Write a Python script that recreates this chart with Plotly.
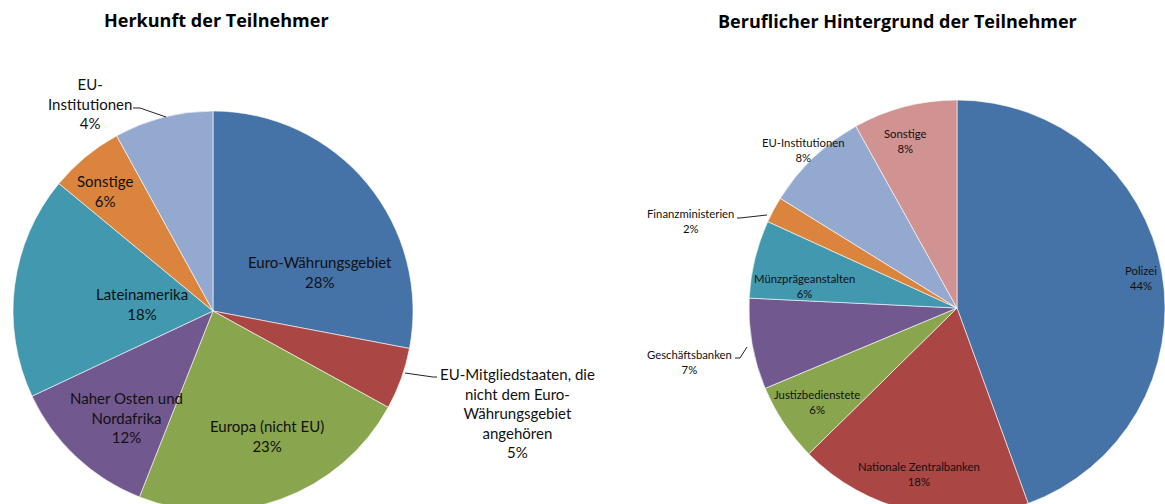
import plotly.graph_objects as go

# ---------------- data ----------------
left_title = "Herkunft der Teilnehmer"
left_labels = [
    "Euro-Währungsgebiet",
    "EU-Mitgliedstaaten, die<br>nicht dem Euro-<br>Währungsgebiet<br>angehören",
    "Europa (nicht EU)",
    "Naher Osten und<br>Nordafrika",
    "Lateinamerika",
    "Sonstige",
    "EU-<br>Institutionen",
]
left_values = [28, 5, 23, 12, 18, 6, 8]
left_pct_text = ["28%", "5%", "23%", "12%", "18%", "6%", "4%"]

right_title = "Beruflicher Hintergrund der Teilnehmer"
right_labels = [
    "Polizei",
    "Nationale Zentralbanken",
    "Justizbedienstete",
    "Geschäftsbanken",
    "Münzprägeanstalten",
    "Finanzministerien",
    "EU-Institutionen",
    "Sonstige",
]
right_values = [44, 18, 6, 7, 6, 2, 8, 8]
right_pct_text = ["44%", "18%", "6%", "7%", "6%", "2%", "8%", "8%"]

# ---------------- styling / layout constants ----------------
W, H = 1165, 520
left_colors = ["#4572A7", "#AA4643", "#89A54E", "#71588F", "#4198AF", "#DB843D", "#93A9CF"]
right_colors = ["#4572A7", "#AA4643", "#89A54E", "#71588F", "#4198AF", "#DB843D", "#93A9CF", "#D19392"]
FONT = "Lato"
TITLE_FONT = "Open Sans"

def dom(cx, cy, r):
    return dict(x=[(cx - r) / W, min(1.0, (cx + r) / W)],
                y=[max(0.0, 1 - (cy + r) / H), 1 - (cy - r) / H])

def px(x, y):
    return x / W, 1 - y / H

fig = go.Figure()
fig.add_trace(go.Pie(
    labels=[l.replace("<br>", " ") for l in left_labels], values=left_values,
    sort=False, direction="clockwise", rotation=0,
    marker=dict(colors=left_colors, line=dict(color="white", width=0.6)),
    textinfo="none", hoverinfo="skip", showlegend=False,
    domain=dom(213, 311, 200),
))
fig.add_trace(go.Pie(
    labels=right_labels, values=right_values,
    sort=False, direction="clockwise", rotation=0,
    marker=dict(colors=right_colors, line=dict(color="white", width=0.6)),
    textinfo="none", hoverinfo="skip", showlegend=False,
    domain=dom(957, 308, 208),
))

# label positions (pixel centres of text blocks)
left_pos = [(320, 272), (517, 413), (267, 436), (126, 417), (142, 304), (105, 191), (90, 104)]
right_pos = [(1141, 278), (919, 474), (817, 402), (689, 362), (804, 286), (690, 221), (803, 150), (905, 141)]

annotations = []
for lab, pct, (x, y) in zip(left_labels, left_pct_text, left_pos):
    ax_, ay_ = px(x, y)
    annotations.append(dict(text=f"{lab}<br>{pct}", x=ax_, y=ay_, xref="paper", yref="paper",
                            showarrow=False, align="center", xanchor="center", yanchor="middle",
                            font=dict(family=FONT, size=15, color="#111111")))
for lab, pct, (x, y) in zip(right_labels, right_pct_text, right_pos):
    ax_, ay_ = px(x, y)
    annotations.append(dict(text=f"{lab}<br>{pct}", x=ax_, y=ay_, xref="paper", yref="paper",
                            showarrow=False, align="center", xanchor="center", yanchor="middle",
                            font=dict(family=FONT, size=11.3, color="#111111")))

for title, (x, y) in [(left_title, (216, 20)), (right_title, (897, 21))]:
    ax_, ay_ = px(x, y)
    annotations.append(dict(text=f"<b>{title}</b>", x=ax_, y=ay_, xref="paper", yref="paper",
                            showarrow=False, xanchor="center", yanchor="middle",
                            font=dict(family=TITLE_FONT, size=18, color="#000000")))

# leader lines
leaders = [
    [(166, 117), (140, 108), (133, 108)],
    [(405, 373), (433, 377), (437, 377)],
    [(767, 215), (740, 218), (737, 218)],
    [(747, 347), (740, 358), (735, 358)],
]
shapes = []
for pts in leaders:
    path = "M " + " L ".join(f"{px(x, y)[0]:.5f},{px(x, y)[1]:.5f}" for x, y in pts)
    shapes.append(dict(type="path", path=path, xref="paper", yref="paper",
                       line=dict(color="#222222", width=1)))

fig.update_layout(
    width=W, height=H,
    margin=dict(l=0, r=0, t=0, b=0),
    paper_bgcolor="white", plot_bgcolor="white",
    annotations=annotations, shapes=shapes,
    font=dict(family=FONT),
)

fig.write_html("out.html", config={"displayModeBar": False},
               post_script="document.body.style.margin='0';document.body.style.overflow='hidden';")
